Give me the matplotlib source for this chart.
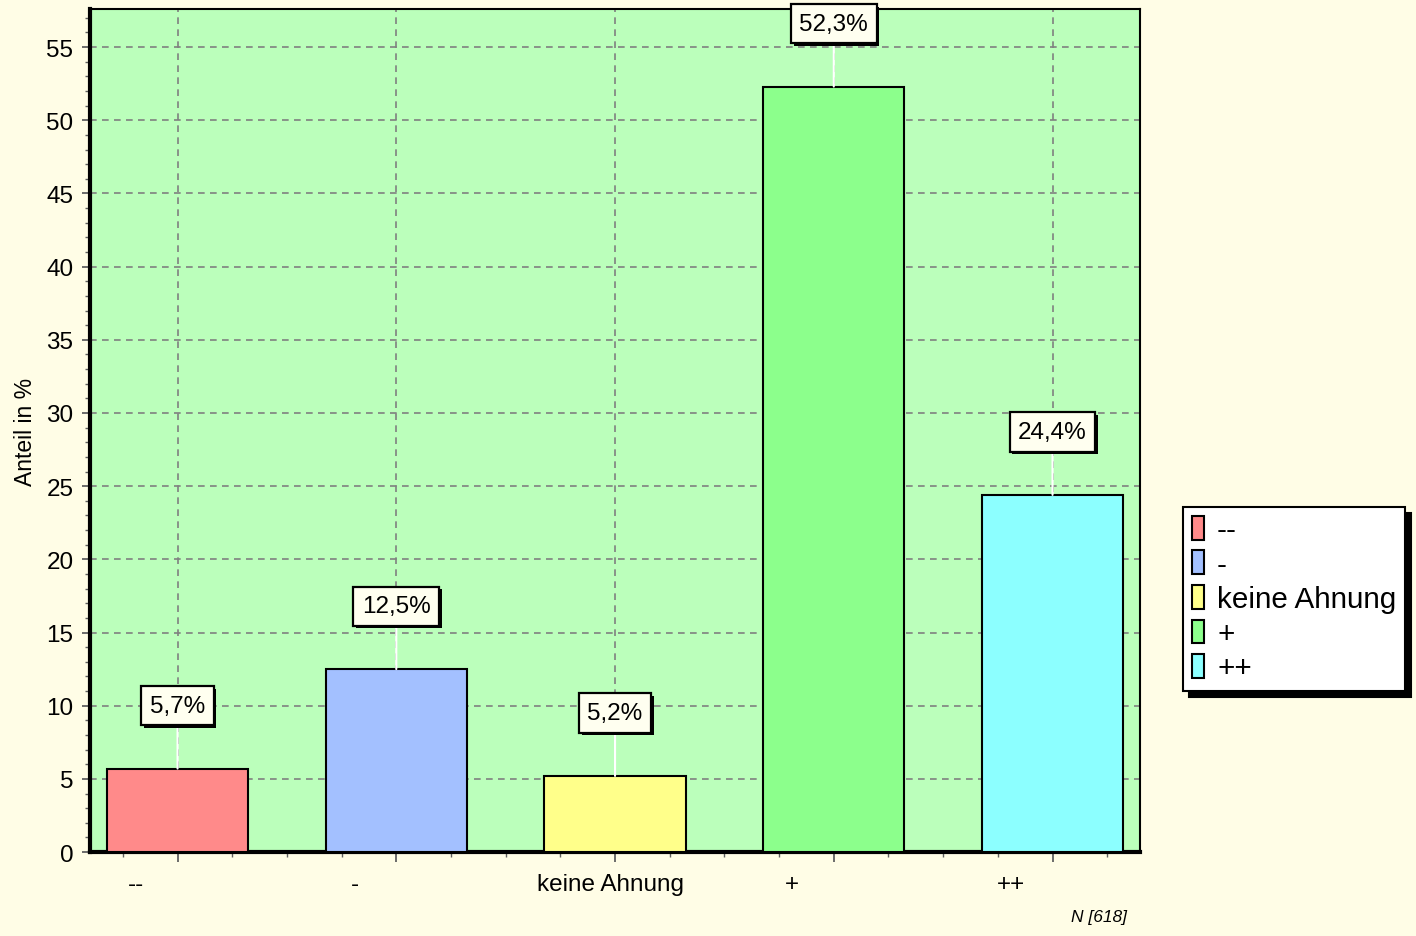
import matplotlib
matplotlib.use("Agg")
import matplotlib.pyplot as plt
import matplotlib.patheffects as pe
from matplotlib.ticker import MultipleLocator

plt.rcParams['font.family'] = ['Liberation Sans', 'DejaVu Sans']

# data
categories = ['--', '-', 'keine Ahnung', '+', '++']
shares = [5.7, 12.5, 5.2, 52.3, 24.4]
value_labels = ['5,7%', '12,5%', '5,2%', '52,3%', '24,4%']
bar_colors = ['#ff8a8a', '#a3c0ff', '#ffff8a', '#8cff8c', '#8cffff']
n_total = 618

fig = plt.figure(figsize=(14.16, 9.37), dpi=100, facecolor='#fffde6')
ax = fig.add_axes([0.0636, 0.0896, 0.7415, 0.8997], facecolor='#bbffbb')

x = list(range(len(categories)))
ax.bar(x, shares, width=0.645, color=bar_colors, edgecolor='black',
       linewidth=1.5, zorder=3)

ax.set_xlim(-0.4, 4.4)
ax.set_ylim(0, 57.6)

# grid
ax.set_xticks(x)
ax.set_xticklabels([])
ax.xaxis.set_minor_locator(MultipleLocator(0.25))
ax.yaxis.set_major_locator(MultipleLocator(5))
ax.yaxis.set_minor_locator(MultipleLocator(1))
ax.grid(True, which='major', color='#808080', linestyle=(0, (4, 3.2)),
        linewidth=1.2, zorder=1)
ax.set_axisbelow(True)

ax.tick_params(axis='both', which='major', direction='out', color='#606060',
               length=6, width=1.3, labelsize=17.5, pad=6)
ax.tick_params(axis='both', which='minor', direction='out', color='#606060',
               length=3.5, width=1.0)
ax.tick_params(axis='x', which='major', length=7)

for side in ['left', 'bottom']:
    ax.spines[side].set_linewidth(3)
for side in ['top', 'right']:
    ax.spines[side].set_linewidth(1.5)

# category labels (the short ones sit left of the bar centre in the original)
for xi, cat in zip(x, categories):
    dx = -0.02 if len(cat) > 3 else -0.19
    ax.text(xi + dx, -0.038, cat, transform=ax.get_xaxis_transform(),
            ha='center', va='center', fontsize=17.5)

# value boxes
for xi, v, lab in zip(x, shares, value_labels):
    t = ax.annotate(lab, xy=(xi, v), xytext=(xi, v + 4.3),
                    ha='center', va='center', fontsize=17.5, zorder=5,
                    bbox=dict(boxstyle='square,pad=0.35', fc='#fffff0',
                              ec='black', lw=1.6),
                    arrowprops=dict(arrowstyle='-', color='white', lw=1.5,
                                    shrinkA=0, shrinkB=0))
    t.get_bbox_patch().set_path_effects([
        pe.SimplePatchShadow(offset=(2, -2), shadow_rgbFace='black', alpha=1),
        pe.Normal()])

ax.set_ylabel('Anteil in %', fontsize=16.5, labelpad=7)

fig.text(0.796, 0.013, 'N [%d]' % n_total, fontsize=12.5, style='italic',
         ha='right', va='bottom')

handles = [plt.Rectangle((0, 0), 1, 1, fc=c, ec='black', lw=1.5)
           for c in bar_colors]
leg = fig.legend(handles, categories, loc='upper left',
                 bbox_to_anchor=(0.8355, 0.4578), borderaxespad=0,
                 fontsize=21.3, frameon=True, fancybox=False,
                 edgecolor='black', facecolor='white', framealpha=1,
                 handlelength=0.4, handleheight=0.85, handletextpad=0.45,
                 labelspacing=0.22, borderpad=0.3,
                 shadow={'ox': 4, 'oy': -4, 'facecolor': 'black',
                         'edgecolor': 'black', 'alpha': 1})
leg.get_frame().set_linewidth(1.5)

fig.savefig('out.png', dpi=100, facecolor=fig.get_facecolor())
